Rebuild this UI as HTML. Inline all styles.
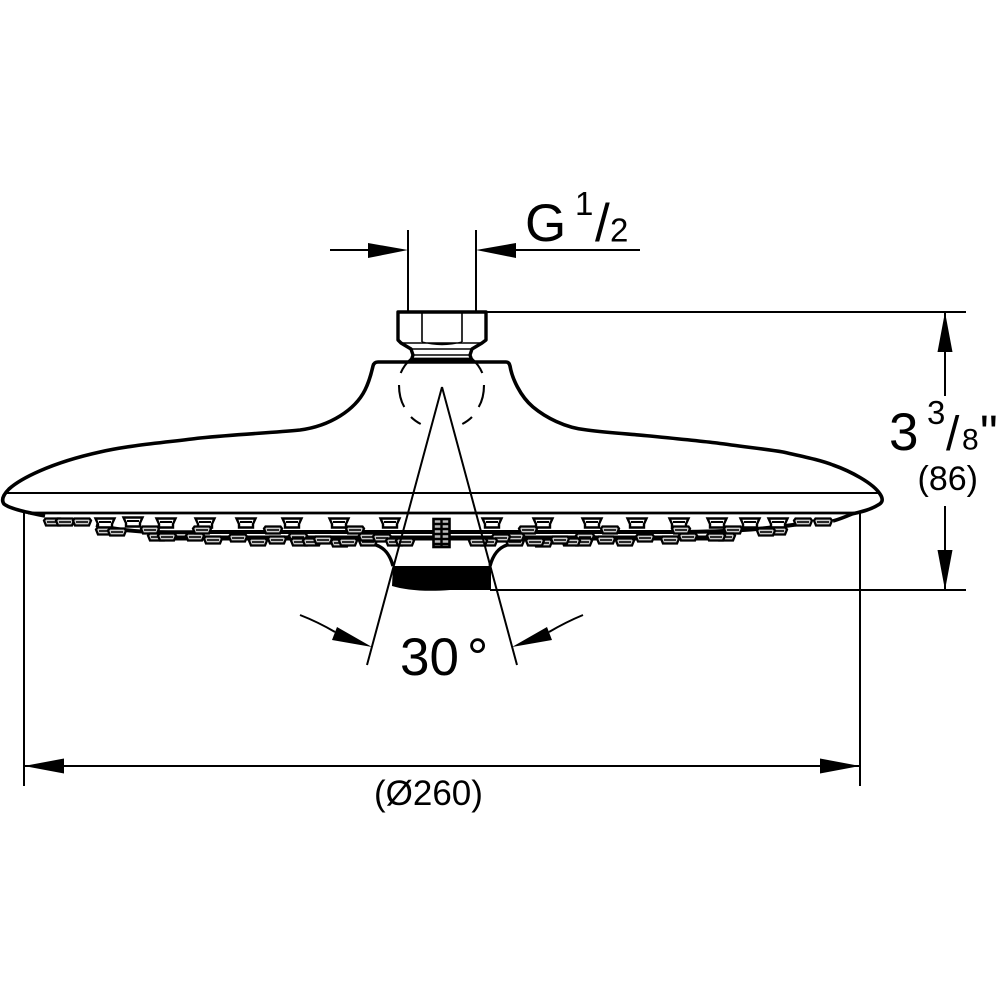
<!DOCTYPE html>
<html><head><meta charset="utf-8"><style>
html,body{margin:0;padding:0;background:#fff}
svg{display:block}
text{font-family:"Liberation Sans",sans-serif;fill:#000}
</style></head><body>
<svg width="1000" height="1000" viewBox="0 0 1000 1000" xmlns="http://www.w3.org/2000/svg">
<defs>
<g id="n"><path d="M-9.5,-4.5H9.5L7,1V4.5H-7V1Z" fill="#fff" stroke="#000" stroke-width="2.4"/><path d="M-6,-1H6" stroke="#000" stroke-width="2"/></g>
<g id="s"><path d="M-7.5,-3.5H7.5L9,-1.5L7,3.5H-7L-9,-1.5Z" fill="#ccc" stroke="#000" stroke-width="2.3"/><path d="M-6,0H6" stroke="#000" stroke-width="1.6"/></g>
<g id="low">
<use href="#s" x="105" y="531"/><use href="#s" x="117" y="532"/>
<use href="#s" x="150" y="530"/><use href="#s" x="157" y="537"/><use href="#s" x="167" y="537"/>
<use href="#s" x="195" y="537"/><use href="#s" x="202" y="530"/><use href="#s" x="213" y="540"/>
<use href="#s" x="238" y="538"/><use href="#s" x="258" y="542"/><use href="#s" x="273" y="530"/>
<use href="#s" x="277" y="540"/><use href="#s" x="298" y="537"/><use href="#s" x="300" y="542"/>
<use href="#s" x="312" y="542"/><use href="#s" x="323" y="540"/><use href="#s" x="340" y="543"/>
<use href="#s" x="348" y="542"/><use href="#s" x="355" y="530"/><use href="#s" x="368" y="542"/>
<use href="#s" x="368" y="537"/><use href="#s" x="382" y="538"/><use href="#s" x="395" y="542"/>
<use href="#s" x="405" y="542"/>
</g>
</defs>
<rect width="1000" height="1000" fill="#fff"/>

<!-- body -->
<path d="M45,516C30,513 10,509 4,504C1,500 3,495 9,489C20,479 50,463 100,452C130,445 170,442 200,438C240,434 270,433 300,430C330,426 355,410 365,390C370,380 372,370 373,366Q374,362 378,362H506Q509,362 510,366C512,378 520,396 533,407C545,417 565,428 587,430C610,433 630,434 650,436C680,439 700,441 717,443C745,447 765,449 783,452C805,457 820,460 833,465C850,471 873,483 880,494C884,500 882,503 878,505C870,510 860,512 852,514C845,517 840,519 833,521" fill="#fff" stroke="#000" stroke-width="3.6" stroke-linejoin="round"/>
<path d="M7,493H878" stroke="#000" stroke-width="2"/>
<path d="M28,513H858" stroke="#000" stroke-width="2.8"/>

<!-- dashed ball -->
<g fill="none" stroke="#000" stroke-width="2.1">
<path d="M411.7,358Q404,365 400.7,373M399,385Q399,398 404.3,407M411,417Q415,421 420.7,424"/>
<path d="M471.3,358Q479,365 482.3,373M484,385Q484,398 478.7,407M472,417Q468,421 462.3,424"/>
</g>

<!-- nut -->
<path d="M398,312H486V340L482,343L472,349L470,355L472,361H411L413,355L411,349L401,343L398,340Z" fill="#fff" stroke="#000" stroke-width="3.4" stroke-linejoin="round"/>
<path d="M422,313V342M462,313V342" stroke="#000" stroke-width="1.6" fill="none"/>
<path d="M402,343H480M422,342Q442,347 462,342" stroke="#000" stroke-width="1.4" fill="none"/>
<path d="M412,349H471M413,355H470" stroke="#000" stroke-width="1.6"/>
<path d="M411,359H472" stroke="#000" stroke-width="2.8"/>

<!-- band -->
<g fill="none" stroke="#000">
<path d="M96,525C125,532 150,533 213,532H670C720,532 760,530 800,524" stroke-width="4"/>
<path d="M165,538H718" stroke-width="5"/>
</g>

<!-- nozzles top row -->
<g>
<use href="#s" x="53" y="522"/><use href="#s" x="65" y="522"/><use href="#s" x="82" y="522"/>
<use href="#n" x="105" y="523"/><use href="#n" x="133" y="522"/><use href="#n" x="166" y="523"/>
<use href="#n" x="205" y="523"/><use href="#n" x="246" y="523"/><use href="#n" x="292" y="523"/>
<use href="#n" x="339" y="523"/><use href="#n" x="390" y="523"/>
<use href="#n" x="492" y="523"/><use href="#n" x="543" y="523"/><use href="#n" x="592" y="523"/>
<use href="#n" x="637" y="523"/><use href="#n" x="679" y="523"/><use href="#n" x="717" y="523"/>
<use href="#n" x="750" y="523"/><use href="#n" x="778" y="523"/>
<use href="#s" x="803" y="522"/><use href="#s" x="823" y="522"/>
</g>
<use href="#low"/>
<use href="#low" transform="translate(883,0) scale(-1,1)"/>
<!-- centre nozzle -->
<g>
<rect x="433.5" y="519" width="16" height="28" fill="#bbb" stroke="#000" stroke-width="2.6"/>
<path d="M433,524H450M433,529H450M433,534H450M433,539H450M433,544H450M441.5,519V547" stroke="#000" stroke-width="2.4"/>
</g>

<!-- outlet -->
<path d="M376,545C385,548 390,555 393,566M507,545C498,548 493,555 490,566" fill="none" stroke="#000" stroke-width="3.4"/>
<path d="M393,566H491V590H450C425,592 405,590 392,586Z" fill="#000"/>

<!-- angle lines -->
<path d="M442,387L367,665M442,387L517,665" fill="none" stroke="#000" stroke-width="2"/>
<path d="M300,615Q318,622 335,632M583,615Q566,622 549,632" fill="none" stroke="#000" stroke-width="2"/>
<path d="M372,647L337,627L332,640Z" fill="#000"/>
<path d="M512,647L547,627L552,640Z" fill="#000"/>

<!-- dimensions -->
<g stroke="#000" stroke-width="2" fill="none">
<path d="M408,230V311M476,230V311"/>
<path d="M330,250H370M514,250H640"/>
<path d="M486,312H966M490,590H966"/>
<path d="M945,312V396M945,506V590"/>
<path d="M24,513V786M860,513V786"/>
<path d="M24,766H860"/>
</g>
<path d="M408,250L368,243V258Z" fill="#000"/>
<path d="M476,250L516,243V258Z" fill="#000"/>
<path d="M945,312L937.5,352H952.5Z" fill="#000"/>
<path d="M945,590L937.5,550H952.5Z" fill="#000"/>
<path d="M24,766L64,758.5V773.5Z" fill="#000"/>
<path d="M860,766L820,758.5V773.5Z" fill="#000"/>

<!-- text -->
<text x="525" y="241" font-size="53">G</text>
<text x="575" y="215" font-size="33">1</text>
<text x="595" y="241" font-size="53">/</text>
<text x="610" y="241.5" font-size="33">2</text>

<text x="889" y="450" font-size="53">3</text>
<text x="927" y="424" font-size="33">3</text>
<text x="946" y="450" font-size="48">/</text>
<text x="962" y="449.5" font-size="30">8</text>
<text x="980" y="450" font-size="50">"</text>
<text x="917.5" y="490" font-size="34">(86)</text>

<text x="400" y="675" font-size="53">30</text>
<text x="467" y="675" font-size="53">°</text>
<text x="374" y="805" font-size="35">(Ø260)</text>
</svg>
</body></html>
